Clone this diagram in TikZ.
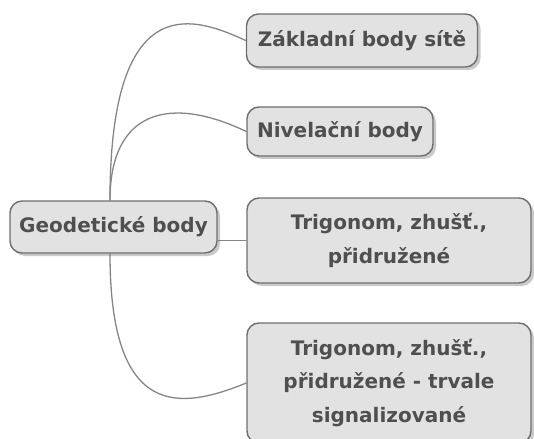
\documentclass[tikz,border=0pt]{standalone}
\usepackage{fontspec}
\setmainfont{DejaVu Sans}
\usetikzlibrary{shadows,backgrounds}
\definecolor{boxfill}{HTML}{E2E2E2}
\definecolor{boxline}{HTML}{6E6E6E}
\definecolor{boxtext}{HTML}{4F4F4F}
\definecolor{linkline}{HTML}{858585}
\tikzset{
  topic/.style={draw=boxline, line width=1.4pt, fill=boxfill, rounded corners=12pt,
    text=boxtext, font=\fontsize{20}{33.5}\selectfont\bfseries, align=center,
    inner sep=0pt,
    drop shadow={shadow xshift=3pt, shadow yshift=-3pt, opacity=0.35, fill=black!60}},
  link/.style={draw=linkline, line width=1.3pt}
}
\begin{document}
\begin{tikzpicture}[x=1pt, y=-1pt]
\useasboundingbox (0,0) rectangle (534,438);
\node[topic, minimum width=207pt, minimum height=52pt] (root) at (113.5,227) {Geodetické body};
\node[topic, minimum width=231pt, minimum height=53pt] (zak) at (362,40.5) {Základní body sítě};
\node[topic, minimum width=186pt, minimum height=49pt] (niv) at (340,131.5) {Nivelační body};
\node[topic, minimum width=284pt, minimum height=85pt] (tri) at (389,240.5) {Trigonom, zhušť.,\\přidružené};
\node[topic, minimum width=284pt, minimum height=120pt] (sig) at (389,383) {Trigonom, zhušť.,\\přidružené - trvale\\signalizované};
\begin{scope}[on background layer]
  \coordinate (top) at ([xshift=-3.5pt]root.north);
  \coordinate (bot) at ([xshift=-3.5pt]root.south);
  \draw[link] (top) .. controls (110,-20) and (200,20) .. (zak.west);
  \draw[link] (top) .. controls (110,110) and (170,95) .. (niv.west);
  \draw[link] (tri.west -| root.east) -- (tri.west);
  \draw[link] (bot) .. controls (110,420) and (180,410) .. (sig.west);
\end{scope}
\end{tikzpicture}
\end{document}
